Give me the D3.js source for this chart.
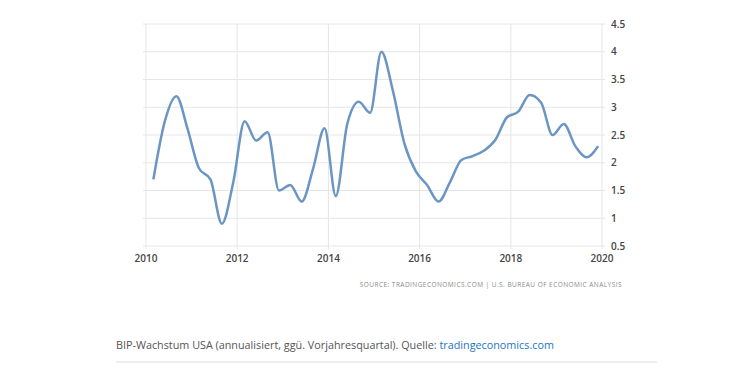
<!DOCTYPE html>
<html>
<head>
<meta charset="utf-8">
<script src="https://cdn.jsdelivr.net/npm/d3@7"></script>
<style>
    body { margin: 0; background: #fff; }
    svg { display: block; }
</style>
</head>
<body>
<svg id="vis-svg"></svg>
<script>
// Quarterly GDP growth (YoY), 2010 Q1 .. 2019 Q4
const years = [2010, 2011, 2012, 2013, 2014, 2015, 2016, 2017, 2018, 2019];
const quarterMonths = [2, 5, 8, 11]; // plotted on first day of last month of quarter
const growth = [
    1.7, 2.75, 3.2, 2.6,
    1.9, 1.7, 0.9, 1.65,
    2.75, 2.4, 2.55, 1.5,
    1.6, 1.3, 1.9, 2.62,
    1.4, 2.7, 3.1, 2.9,
    4.0, 3.3, 2.35, 1.85,
    1.6, 1.3, 1.65, 2.05,
    2.12, 2.22, 2.42, 2.82,
    2.92, 3.22, 3.08, 2.5,
    2.7, 2.3, 2.1, 2.3
];
const xTicks = [2010, 2012, 2014, 2016, 2018, 2020];
const yTicks = [0.5, 1, 1.5, 2, 2.5, 3, 3.5, 4, 4.5];

const W = 740, H = 369;
const margin = { top: 24, right: 138, bottom: 123, left: 146 },
    width = W - margin.left - margin.right,
    height = H - margin.top - margin.bottom;

const data = [];
years.forEach((yr, i) => {
    quarterMonths.forEach((m, j) => {
        data.push({ date: new Date(yr, m, 1), value: growth[i * 4 + j] });
    });
});

const svg = d3.select("#vis-svg")
    .attr("width", W)
    .attr("height", H);

const g = svg.append("g")
    .attr("transform", "translate(" + margin.left + "," + margin.top + ")");

const x = d3.scaleTime()
    .domain([new Date(2010, 0, 1), new Date(2020, 0, 1)])
    .range([0, width]);
const y = d3.scaleLinear()
    .domain([0.5, 4.5])
    .range([height, 0]);

// horizontal grid
g.append("g")
    .selectAll("line")
    .data(yTicks)
    .enter().append("line")
    .attr("x1", -3)
    .attr("x2", width + 3)
    .attr("y1", d => y(d))
    .attr("y2", d => y(d))
    .attr("stroke", "#e6e6e6")
    .attr("stroke-width", 1);

// vertical grid
g.append("g")
    .selectAll("line")
    .data(xTicks)
    .enter().append("line")
    .attr("x1", d => x(new Date(d, 0, 1)))
    .attr("x2", d => x(new Date(d, 0, 1)))
    .attr("y1", 0)
    .attr("y2", height + 3)
    .attr("stroke", "#e6e6e6")
    .attr("stroke-width", 1);

// x labels
g.append("g")
    .selectAll("text")
    .data(xTicks)
    .enter().append("text")
    .attr("x", d => x(new Date(d, 0, 1)))
    .attr("y", height + 16)
    .attr("text-anchor", "middle")
    .style("font-family", "'Open Sans', sans-serif")
    .style("font-size", "10px")
    .style("font-weight", "600")
    .style("fill", "#444")
    .text(d => d);

// y labels (right side)
g.append("g")
    .selectAll("text")
    .data(yTicks)
    .enter().append("text")
    .attr("x", width + 9)
    .attr("y", d => y(d))
    .attr("dy", "0.35em")
    .style("font-family", "'Open Sans', sans-serif")
    .style("font-size", "10px")
    .style("font-weight", "600")
    .style("fill", "#444")
    .text(d => d);

// the line
const line = d3.line()
    .x(d => x(d.date))
    .y(d => y(d.value))
    .curve(d3.curveMonotoneX);

g.append("path")
    .datum(data)
    .attr("d", line)
    .attr("fill", "none")
    .attr("stroke", "#6b96c3")
    .attr("stroke-width", 2.5)
    .attr("stroke-linejoin", "round");

// source
svg.append("text")
    .attr("x", 622)
    .attr("y", 287)
    .attr("text-anchor", "end")
    .style("font-family", "'Open Sans', sans-serif")
    .style("font-size", "6.5px")
    .style("letter-spacing", "0.45px")
    .style("fill", "#8a8a8a")
    .text("SOURCE: TRADINGECONOMICS.COM  |  U.S. BUREAU OF ECONOMIC ANALYSIS");

// caption
const cap = svg.append("text")
    .attr("x", 116)
    .attr("y", 349)
    .style("font-family", "'Open Sans', sans-serif")
    .style("font-size", "10.8px")
    .style("fill", "#555");
cap.append("tspan").text("BIP-Wachstum USA (annualisiert, ggü. Vorjahresquartal). Quelle: ");
cap.append("tspan").style("fill", "#1a76c4").text("tradingeconomics.com");

svg.append("line")
    .attr("x1", 116)
    .attr("x2", 657)
    .attr("y1", 362)
    .attr("y2", 362)
    .attr("stroke", "#eeeeee")
    .attr("stroke-width", 2);
</script>
</body>
</html>
